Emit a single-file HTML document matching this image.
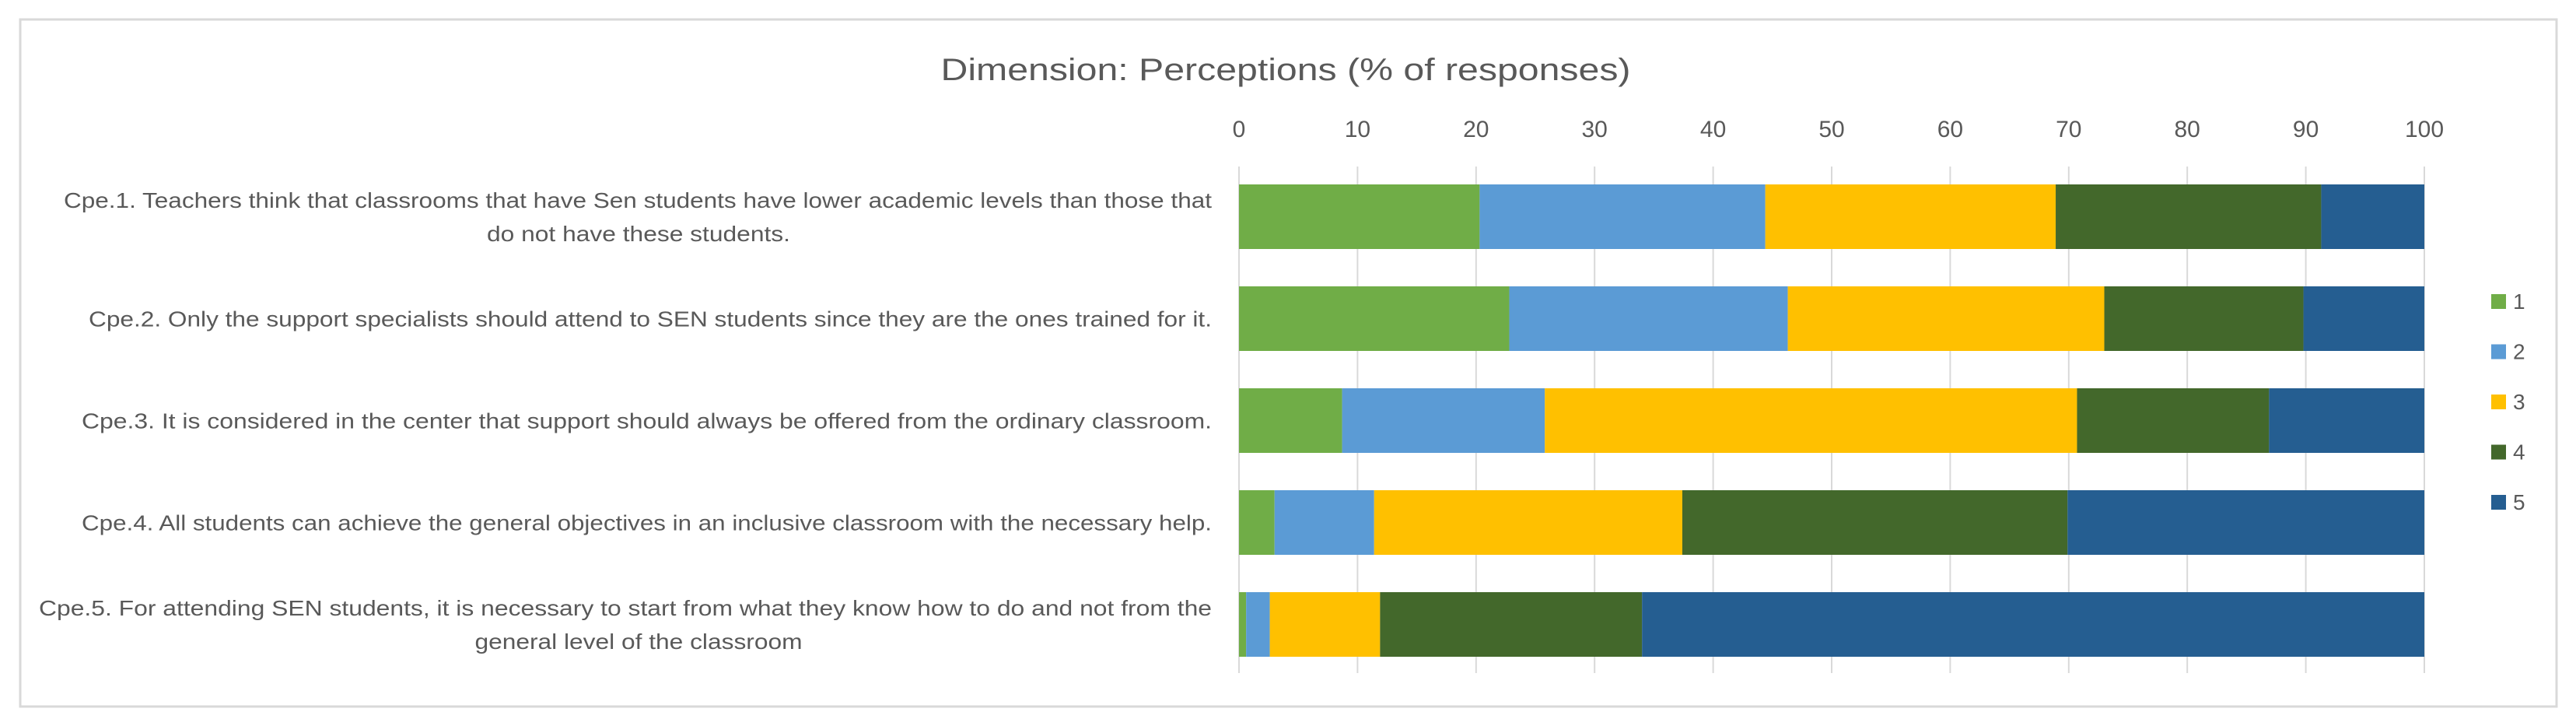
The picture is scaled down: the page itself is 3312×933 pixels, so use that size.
<!DOCTYPE html>
<html><head><meta charset="utf-8"><style>
html,body{margin:0;padding:0;background:#fff;}
svg{display:block;font-family:"Liberation Sans",sans-serif;}
</style></head><body>
<svg id="chart" width="3312" height="933" viewBox="0 0 3312 933">
<rect x="26" y="25" width="3261" height="883" fill="#fff" stroke="#d9d9d9" stroke-width="3"/>
<text x="1653" y="103" text-anchor="middle" font-size="40" fill="#595959" textLength="887" lengthAdjust="spacingAndGlyphs">Dimension: Perceptions (% of responses)</text>
<g id="grid"></g><g id="ticks"></g><g id="bars"></g><g id="labels"></g><g id="legend"></g>
</svg>
<script>
const categories = ["Cpe.1","Cpe.2","Cpe.3","Cpe.4","Cpe.5"];
const series1 = [20.3, 22.8, 8.7, 3.0, 0.6];
const series2 = [24.1, 23.5, 17.1, 8.4, 2.0];
const series3 = [24.5, 26.7, 44.9, 26.0, 9.3];
const series4 = [22.4, 16.8, 16.2, 32.5, 22.1];
const series5 = [8.7, 10.2, 13.1, 30.1, 66.0];
const seriesNames = ["1","2","3","4","5"];
const tickValues = [0,10,20,30,40,50,60,70,80,90,100];
const labelLines = [
 ["Cpe.1. Teachers think that classrooms that have Sen students have lower academic levels than those that","do not have these students."],
 ["Cpe.2. Only the support specialists should attend to SEN students since they are the ones trained for it."],
 ["Cpe.3. It is considered in the center that support should always be offered from the ordinary classroom."],
 ["Cpe.4. All students can achieve the general objectives in an inclusive classroom with the necessary help."],
 ["Cpe.5. For attending SEN students, it is necessary to start from what they know how to do and not from the","general level of the classroom"]
];
const NS="http://www.w3.org/2000/svg";
const colors=["#70AD47","#5B9BD5","#FFC000","#43682B","#255E91"];
const X0=1593, X1=3117, Y0=237, PITCH=131, BH=83;
const xs=v=>X0+(X1-X0)*v/100;
const yc=i=>Y0+i*PITCH;
function mk(tag,attrs,parent){const e=document.createElementNS(NS,tag);for(const k in attrs)e.setAttribute(k,attrs[k]);parent.appendChild(e);return e;}
const grid=document.getElementById('grid'),ticks=document.getElementById('ticks');
tickValues.forEach(t=>{
 const l=mk('line',{x1:xs(t),x2:xs(t),y1:214,y2:865,stroke:'#d9d9d9','stroke-width':2},grid);
 
 
 const tx=mk('text',{x:xs(t),y:176,'text-anchor':'middle','font-size':30,fill:'#595959'},ticks);
 tx.textContent=t;
 
 
});
const all=[series1,series2,series3,series4,series5];
const bars=document.getElementById('bars');
categories.forEach((c,i)=>{
 let acc=0;
 all.forEach((s,k)=>{
  const r=mk('rect',{x:xs(acc),y:yc(i),width:xs(acc+s[i])-xs(acc),height:BH,fill:colors[k]},bars);
  
  
  acc+=s[i];
 });
});
const labels=document.getElementById('labels');
const lineLens=[[1476,390],[1444],[1453],[1453],[1508,421]];
labelLines.forEach((lines,i)=>{
 const mid=yc(i)+BH/2;
 lines.forEach((ln,j)=>{
  const y=mid+(j-(lines.length-1)/2)*43+10;
  const cx=lines.length>1 && j==1;
  const t=mk('text',{x:cx?821:1558,y:y,'text-anchor':cx?'middle':'end','font-size':28,fill:'#595959',textLength:lineLens[i][j],lengthAdjust:'spacingAndGlyphs'},labels);
  t.textContent=ln;
  
  
 });
});
const legend=document.getElementById('legend');
seriesNames.forEach((n,k)=>{
 const y=378+k*64.5;
 const r=mk('rect',{x:3203,y:y,width:19,height:19,fill:colors[k]},legend);
 
 
 const t=mk('text',{x:3231,y:y+19,'font-size':28,fill:'#595959'},legend);
 t.textContent=n;
 
 
});
</script>
</body></html>
